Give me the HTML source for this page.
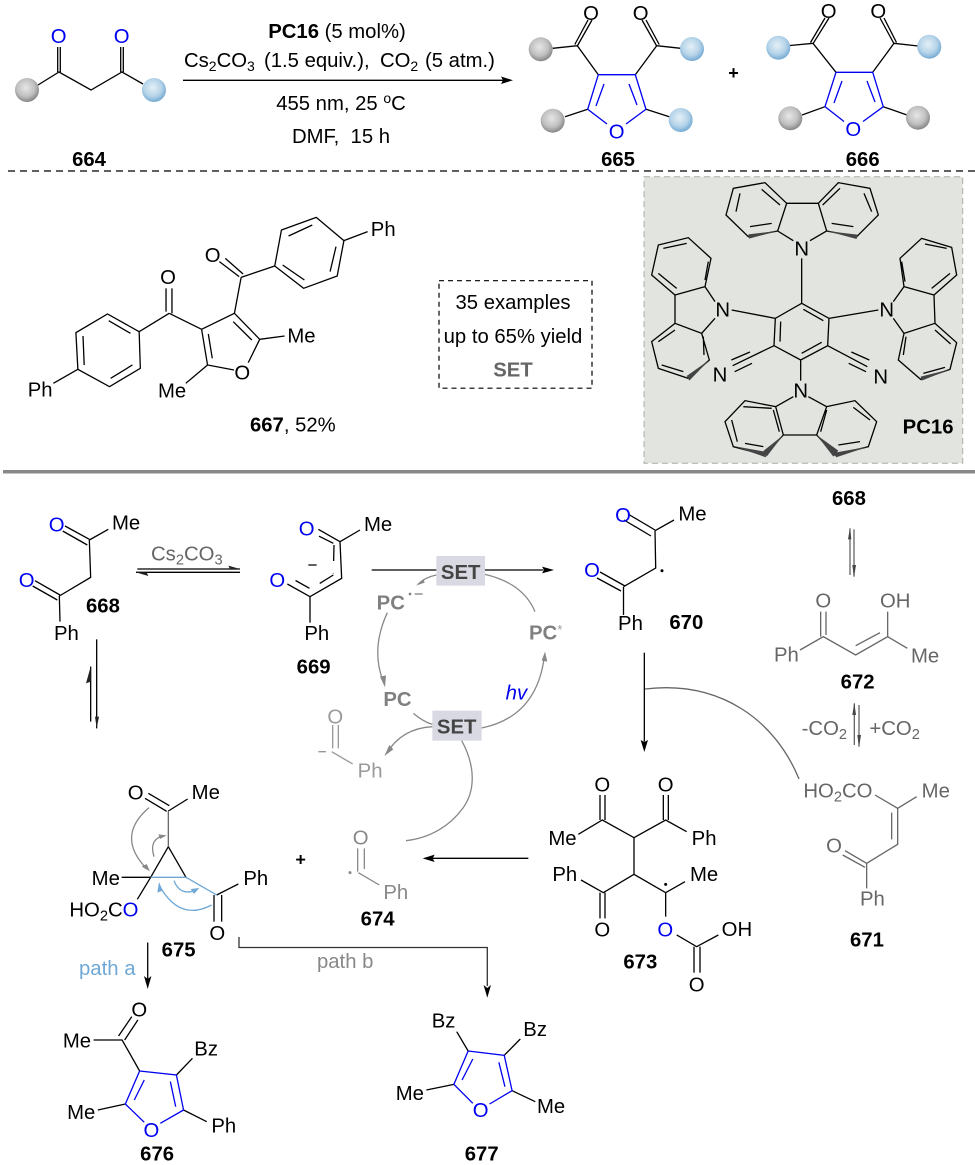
<!DOCTYPE html>
<html><head><meta charset="utf-8"><style>
html,body{margin:0;padding:0;background:#fff}
svg{display:block;font-family:"Liberation Sans",sans-serif;filter:blur(.3px)}
path{fill:none;stroke:#000;stroke-width:1.3;vector-effect:non-scaling-stroke}
.g path{stroke:#666}
.b path{stroke:#0000f0}
.a path{stroke:#888}
text{stroke:none}
.bd{font-weight:bold}
.bl{fill:#0000f0}
</style></head><body>
<svg width="975" height="1165" viewBox="0 0 975 1165" xmlns="http://www.w3.org/2000/svg" font-size="20.3">
<defs>
<radialGradient id="gy" cx=".45" cy=".4" r=".62"><stop offset="0" stop-color="#e6e6e6"/><stop offset=".6" stop-color="#c0c0c0"/><stop offset="1" stop-color="#808080"/></radialGradient>
<radialGradient id="bu" cx=".45" cy=".4" r=".62"><stop offset="0" stop-color="#e4f0f7"/><stop offset=".6" stop-color="#b5d3e8"/><stop offset="1" stop-color="#6fa7d2"/></radialGradient>
</defs>

<!-- top reaction -->
<path d="M38,85L59,72L91,90L122,72L143,84M57.7,47V72M60.3,47V72M120.7,47V72M123.3,47V72"/>
<circle cx="27" cy="90" r="12" fill="url(#gy)"/><circle cx="154" cy="90" r="12" fill="url(#bu)"/>
<text x="58.7" y="43" text-anchor="middle" class="bl">O</text><text x="121.7" y="43" text-anchor="middle" class="bl">O</text>
<text x="89" y="166" text-anchor="middle" class="bd">664</text>
<path d="M183,80.3H503"/><polygon points="513,80.3 501,76.5 503,80.3 501,84"/>
<text x="337" y="38" text-anchor="middle"><tspan class="bd">PC16</tspan> (5 mol%)</text>
<text x="184" y="67">Cs<tspan font-size="14" dy="4">2</tspan><tspan dy="-4">CO</tspan><tspan font-size="14" dy="4">3</tspan><tspan dy="-4" x="264">(1.5 equiv.),</tspan><tspan x="380">CO</tspan><tspan font-size="14" dy="4">2</tspan><tspan dy="-4" x="425">(5 atm.)</tspan></text>
<text x="341" y="110" text-anchor="middle">455 nm, 25 <tspan font-size="14" dy="-7">o</tspan><tspan dy="7">C</tspan></text>
<text x="341" y="143" text-anchor="middle">DMF,&#160;&#160;15 h</text>

<!-- 665 -->
<path d="M552.7,48.3L577.3,45.7L598.3,74.7M577.3,46L592,20M574.8,44.5L588,20M656.7,45.7L635.3,74.7M656.7,46L642,20M659.2,44.5L646,20M656.7,45.7L680.7,48.3M587.7,109.3L565,116.7M646,109.3L669.3,116.7"/>
<g class="b"><path d="M598.3,74.7H635.3L646,109.3L626,124M607,124L587.7,109.3L598.3,74.7M604,84L596,106M629,84L637,105"/></g>
<circle cx="540.7" cy="49.3" r="12" fill="url(#gy)"/><circle cx="692" cy="49" r="12" fill="url(#bu)"/><circle cx="552.7" cy="120.7" r="12" fill="url(#gy)"/><circle cx="680.7" cy="120" r="12" fill="url(#bu)"/>
<text x="591" y="20" text-anchor="middle">O</text><text x="640.7" y="20" text-anchor="middle">O</text>
<text x="616.7" y="138.5" text-anchor="middle" class="bl">O</text>
<text x="618" y="166" text-anchor="middle" class="bd">665</text>
<text x="733.5" y="79" text-anchor="middle" class="bd" font-size="18">+</text>
<!-- 666 -->
<path d="M790,45.5L813,43.3L836,72.3M813,43.7L829,18M810.5,42.5L825,18M894,43.3L872.7,72.3M894,43.7L880,18M896.5,42.5L884,18M894,43.3L918,46M825,106.7L802,115M883.3,106.7L907,115"/>
<g class="b"><path d="M836,72.3H872.7L883.3,106.7L863,121.5M844,121.5L825,106.7L836,72.3M842,81L834,103M867,81L875,102"/></g>
<circle cx="778.3" cy="47.7" r="12" fill="url(#bu)"/><circle cx="929.3" cy="46.7" r="12" fill="url(#bu)"/><circle cx="790.3" cy="118.3" r="12" fill="url(#gy)"/><circle cx="918" cy="117.7" r="12" fill="url(#gy)"/>
<text x="828.7" y="18" text-anchor="middle">O</text><text x="878.3" y="18" text-anchor="middle">O</text>
<text x="853.3" y="136" text-anchor="middle" class="bl">O</text>
<text x="862.7" y="166" text-anchor="middle" class="bd">666</text>

<path d="M8,171H975" stroke-dasharray="7 5"/>

<!-- PC16 panel -->
<rect x="644" y="176.7" width="318.7" height="286.5" fill="#e2e4df" stroke="#a9aea2" stroke-dasharray="6 4"/>
<g transform="translate(630,170) scale(.33333)" font-size="61">
<path d="M515,400L597,445L593,527L512,570L432,527L436,445Z M520,418L580,452M452,455L450,515M575,517L515,550
M515,400V265M436,445L305,420M597,445L745,420M512,570V632M432,527L308,587M593,527L712,590M304,570L360,546M314,605L366,580M718,570L664,546M708,605L656,580
M490,212L443,183L470,100L565,100L590,183L540,212M443,183L355,200L288,135L310,55L405,38L470,100M590,183L680,200L745,135L720,55L625,38L565,100M395,58L450,105M318,125L330,70M360,170L425,160M630,55L578,105M702,70L725,125M605,160L670,170
M255,395L225,350L135,375L135,460L215,490L255,445M225,350L243,265L175,203L85,225L65,315L135,375M135,460L65,515L85,595L175,625L238,570L215,490M100,235L170,220M140,355L85,310M225,330L235,275M85,515L135,480M95,585L160,605M220,500L222,555
M790,395L822,350L912,375L915,460L822,490L790,445M822,350L810,265L875,205L965,232L980,315L912,375M915,460L980,518L960,598L872,628L805,570L822,490M885,222L950,235M905,355L960,310M825,335L815,275M915,480L962,522M880,610L945,592M828,500L820,555
M490,680L437,710L460,795H560L590,710L535,680M437,710L345,692L285,755L310,830L405,855L460,795M590,710L675,692L740,755L715,830L615,855L560,795M340,710L425,715M305,750L322,815M345,820L400,830M430,720L448,785M590,720L572,785M625,825L690,815M670,712L720,750"/>
<g fill="#444"><polygon points="443,183 355,193 357,206"/><polygon points="590,183 682,194 680,207"/><polygon points="238,570 170,618 178,632"/><polygon points="960,598 872,620 875,632"/><polygon points="460,795 400,843 410,860"/><polygon points="560,795 610,860 625,842"/><polygon points="310,828 405,845 408,862"/><polygon points="715,830 615,848 618,862"/></g>
<text x="515" y="257" text-anchor="middle">N</text><text x="278" y="440" text-anchor="middle">N</text><text x="770" y="440" text-anchor="middle">N</text><text x="512" y="682" text-anchor="middle">N</text><text x="270" y="635" text-anchor="middle">N</text><text x="752" y="640" text-anchor="middle">N</text>
<text x="818" y="790" class="bd">PC16</text>
</g>

<!-- 667 -->
<g transform="translate(0,180) scale(.3953,.3333)">
<path d="M800,112L870,182L853,288L768,325L695,258L712,150Z M730,168L790,135M850,200L835,275M715,255L770,300M870,182L930,155M555,245L605,290M570,235L615,282M610,292L695,258M610,292L593,400
M428,400L352,455M420,325V395M435,325V400M428,400L510,448M352,455L272,402L192,458L197,568L277,620L355,565Z M275,422L330,460M210,468L213,555M280,595L335,555M197,568L135,610
M510,448L593,400L657,478L628,548M592,570L525,555L510,448M590,425L637,480M527,462L537,535M657,478L720,468M525,555L470,610"/>
</g>
<text x="370.8" y="236">Ph</text><text x="27.7" y="396.7">Ph</text><text x="287.4" y="342.3">Me</text><text x="158" y="397.7">Me</text>
<text x="212.6" y="262" text-anchor="middle">O</text><text x="168" y="284" text-anchor="middle">O</text><text x="242.3" y="379.5" text-anchor="middle">O</text>
<text x="250" y="431.7"><tspan class="bd">667</tspan>, 52%</text>
<rect x="439" y="280.7" width="153" height="107.5" fill="none" stroke="#000" stroke-width="1.2" stroke-dasharray="5 4"/>
<text x="513" y="309" text-anchor="middle">35 examples</text>
<text x="513" y="343" text-anchor="middle">up to 65% yield</text>
<text x="513" y="376.7" text-anchor="middle" class="bd" fill="#666">SET</text>
<rect x="3" y="470" width="972" height="3.5" fill="#888"/>

<!-- 668 -->
<g transform="translate(0,490) scale(.33333)" font-size="61">
<path d="M195,108L268,148M188,123L262,165M268,150L325,118M268,150L272,262L178,318M105,272L180,315M98,288L172,330M178,318L180,395"/>
<path d="M412,237H720M408,247H720M290,448V715M272,695V530"/>
<g fill="#222"><polygon points="720,237 685,227 690,237"/><polygon points="408,247 445,258 440,247"/><polygon points="290,715 285,680 297,680"/><polygon points="272,530 258,580 272,575"/></g>
<text x="170" y="124" text-anchor="middle" class="bl">O</text><text x="80" y="291" text-anchor="middle" class="bl">O</text>
<text x="336" y="118">Me</text><text x="162" y="450">Ph</text><text x="258" y="368" class="bd">668</text>
<text x="453" y="212" fill="#666">Cs<tspan font-size="44" dy="12">2</tspan><tspan dy="-12">CO</tspan><tspan font-size="44" dy="12">3</tspan></text>
</g>

<!-- 669 + cycle -->
<g transform="translate(260,490) scale(.33333)" font-size="61">
<rect x="529" y="198" width="146" height="89" fill="#d9d9e3"/><rect x="517" y="662" width="148" height="90" fill="#d9d9e3"/>
<path d="M240,155L300,120M240,155L245,265L150,320L82,282M240,155L175,118M150,320V398"/>
<path d="M220,160L160,130M222,165L220,250M220,255L152,297L95,265M145,225H170" stroke-dasharray="16 12"/>
<path d="M335,240H529M675,240H850"/><polygon points="882,240 846,230 852,240 846,250"/>
<g class="a"><path d="M529,255Q495,262 475,282M675,253Q790,280 825,365M382,368Q330,480 372,580M460,670Q490,695 517,703M665,714Q830,680 853,500M517,710Q425,715 380,790"/></g>
<g fill="#888"><polygon points="468,287 490,267 494,278"/><polygon points="375,592 360,560 378,556"/><polygon points="855,485 862,515 845,512"/><polygon points="373,798 388,765 400,778"/></g>
<text x="140" y="136" text-anchor="middle" class="bl">O</text><text x="52" y="291" text-anchor="middle" class="bl">O</text>
<text x="312" y="123">Me</text><text x="133" y="450">Ph</text><text x="110" y="550" class="bd">669</text>
<text x="602" y="267" text-anchor="middle" class="bd" fill="#444">SET</text><text x="590" y="730" text-anchor="middle" class="bd" fill="#444">SET</text>
<text x="350" y="358" class="bd" fill="#808080">PC</text><circle cx="450" cy="312" r="4" fill="#808080"/><path d="M464,312H488" style="stroke:#808080"/>
<text x="370" y="648" class="bd" fill="#808080">PC</text><text x="807" y="448" class="bd" fill="#808080">PC</text><text x="892" y="432" font-size="38" fill="#999">*</text>
<text x="737" y="628" class="bl" font-style="italic">hv</text>
<path d="M218,705V775M235,705V775M215,785L278,822M175,785H198" style="stroke:#999"/>
<text x="226" y="700" text-anchor="middle" fill="#999">O</text><text x="293" y="862" fill="#999">Ph</text>
</g>
<path d="M461.7,740.7C475,765 476,790 463,808C450,826 430,838 406,840.7" style="stroke:#888"/>

<!-- 670 -->
<path d="M628,514L655,530M624,520L651,536M655,530.7L674,520M655,530.7L655.7,568L623.5,586.7M600,572L625,586M597,578L621,591M623.5,587V615"/>
<text x="623" y="522" text-anchor="middle" class="bl">O</text><text x="592" y="577" text-anchor="middle" class="bl">O</text>
<circle cx="662" cy="570.7" r="1.5" fill="#000"/>
<g transform="translate(620,480) scale(.33333)" font-size="61">
<path d="M73,518V785"/><polygon points="73,816 62,780 73,786 84,780"/>
<text x="175" y="122">Me</text><text x="-6" y="450">Ph</text><text x="148" y="447" class="bd">670</text>
<text x="636" y="75" class="bd">668</text><text x="662" y="625" class="bd">672</text>
<g class="g"><path d="M702,148V290M690,285V145M602,395V470M618,395V465M540,510L610,470L707,525L803,470L862,505M707,497L780,458M803,395V470M717,675V800M703,795V670"/></g>
<g fill="#444"><polygon points="702,292 697,255 708,255"/><polygon points="690,143 684,178 694,178"/><polygon points="717,802 712,765 723,765"/><polygon points="703,668 697,705 708,705"/></g>
<g fill="#666"><text x="610" y="383" text-anchor="middle">O</text><text x="780" y="382">OH</text><text x="462" y="545">Ph</text><text x="873" y="547">Me</text>
<text x="545" y="765">-CO<tspan font-size="44" dy="12">2</tspan></text><text x="748" y="765">+CO<tspan font-size="44" dy="12">2</tspan></text></g>
</g>
<path d="M645,689C720,680 775,720 799,779" style="stroke:#666"/>

<!-- 673, 671 -->
<g transform="translate(520,740) scale(.33333)" font-size="61">
<path d="M240,165V240M255,165V240M430,165V240M445,165V240M175,283L247,240L342,293L437,240L500,275M342,293V403M342,403L250,458L183,420M342,403L437,458L495,425M240,458V535M255,458V535M437,458V530M470,585L530,620L595,585M522,620V698M540,620V698"/>
<circle cx="437" cy="433" r="4.5" fill="#000"/>
<text x="247" y="155" text-anchor="middle">O</text><text x="437" y="155" text-anchor="middle">O</text><text x="247" y="590" text-anchor="middle">O</text><text x="436" y="590" text-anchor="middle" class="bl">O</text><text x="530" y="755" text-anchor="middle">O</text>
<text x="85" y="315">Me</text><text x="515" y="315">Ph</text><text x="97" y="423">Ph</text><text x="510" y="423">Me</text><text x="605" y="588">OH</text><text x="310" y="685" class="bd">673</text>
<g class="g"><path d="M1065,165L1133,205L1190,170M1133,205V313L1040,370L975,332M968,345L1035,382M1115,218V298M1040,370V445"/></g>
<g fill="#666"><text x="850" y="172">HO<tspan font-size="44" dy="12">2</tspan><tspan dy="-12">CO</tspan></text><text x="1205" y="172">Me</text><text x="942" y="338" text-anchor="middle">O</text><text x="1020" y="497">Ph</text></g>
<text x="990" y="620" class="bd">671</text>
</g>

<!-- 675 -->
<g transform="translate(40,740) scale(.33333)" font-size="61">
<path d="M325,160L388,197M315,175L380,214M385,213L443,177M385,320L332,412M385,320L438,412M245,412H332M332,412L292,478M530,465L595,432M522,465V545M545,465V545"/>
<path d="M385,213V320" style="stroke:#666"/>
<path d="M332,412H438L530,465M515,495Q420,545 360,440M402,422Q420,470 470,450" style="stroke:#6fa8d6"/>
<path d="M327,203Q225,290 322,388M342,350Q325,295 375,287" style="stroke:#888"/>
<polygon points="330,394 305,380 320,372" fill="#888"/><polygon points="380,286 355,283 360,297" fill="#888"/>
<polygon points="357,426 352,458 368,452" fill="#6fa8d6"/><polygon points="478,444 452,447 462,462" fill="#6fa8d6"/>
<text x="287" y="179" text-anchor="middle">O</text><text x="455" y="177">Me</text><text x="155" y="435">Me</text><text x="610" y="435">Ph</text><text x="532" y="600" text-anchor="middle">O</text>
<text x="88" y="530">HO<tspan font-size="44" dy="12">2</tspan><tspan dy="-12">C</tspan><tspan class="bl">O</tspan></text>
<text x="365" y="650" class="bd">675</text>
<text x="117" y="705" fill="#6fa8d6">path a</text>
<text x="782" y="376" text-anchor="middle" class="bd" font-size="54">+</text>
</g>
<path d="M147.7,942.5V980"/><polygon points="147.7,989 144,976 147.7,979 151.4,976"/>
<path d="M239,937V947.5H487.3V986" style="stroke:#333"/><polygon points="487.3,997.7 483.6,985 487.3,988 491,985"/>
<text x="317" y="968" fill="#888">path b</text>

<!-- 674 -->
<g transform="translate(290,790) scale(.33333)" font-size="61">
<path d="M203,175V245M223,175V237M205,248L268,285" style="stroke:#888"/>
<circle cx="180" cy="248" r="4.5" fill="#888"/>
<text x="212" y="163" text-anchor="middle" fill="#888">O</text><text x="280" y="327" fill="#888">Ph</text><text x="212" y="407" class="bd">674</text>
<path d="M715,205H425"/><polygon points="398,205 434,194 428,205 434,216"/>
</g>

<!-- 676, 677 -->
<g transform="translate(30,960) scale(.3571,.33333)">
<path d="M178,240H258L307,333M248,228L285,170M265,240L302,180M410,345L455,295M190,450L267,432M430,450L495,485M1195,215L1227,273M1328,286L1373,237M1110,390L1187,373M1350,392L1415,425"/>
<g class="b"><path d="M307,333L410,345L430,450L365,490M320,487L267,432L307,333M320,360L292,420M393,365L408,440M1227,273L1328,286L1350,392L1287,432M1240,430L1187,373L1227,273M1240,297L1210,360M1313,307L1330,380"/></g>
</g>
<text x="139.3" y="1016.5" text-anchor="middle">O</text><text x="62.9" y="1047.3">Me</text><text x="194.3" y="1055.3">Bz</text><text x="67.1" y="1119">Me</text><text x="211.4" y="1132.7">Ph</text><text x="151.4" y="1137.2" text-anchor="middle" class="bl">O</text><text x="157.1" y="1160.7" text-anchor="middle" class="bd">676</text>
<text x="431.7" y="1027.7">Bz</text><text x="523.3" y="1036">Bz</text><text x="395.7" y="1100">Me</text><text x="537" y="1113">Me</text><text x="480.7" y="1117" text-anchor="middle" class="bl">O</text><text x="481.7" y="1160.7" text-anchor="middle" class="bd">677</text>
</svg>
</body></html>
